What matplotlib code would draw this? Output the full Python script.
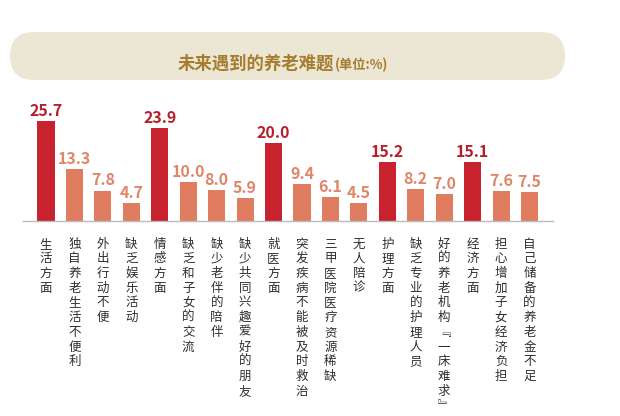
import matplotlib
matplotlib.use("Agg")
import matplotlib.pyplot as plt
from matplotlib.patches import FancyBboxPatch

plt.rcParams['font.family'] = ['Noto Sans CJK SC', 'DejaVu Sans']

categories = ["生活方面", "独自养老生活不便利", "外出行动不便", "缺乏娱乐活动",
              "情感方面", "缺乏和子女的交流", "缺少老伴的陪伴", "缺少共同兴趣爱好的朋友",
              "就医方面", "突发疾病不能被及时救治", "三甲医院医疗资源稀缺", "无人陪诊",
              "护理方面", "缺乏专业的护理人员", "好的养老机构﹃一床难求﹄",
              "经济方面", "担心增加子女经济负担", "自己储备的养老金不足"]
values = [25.7, 13.3, 7.8, 4.7,
          23.9, 10.0, 8.0, 5.9,
          20.0, 9.4, 6.1, 4.5,
          15.2, 8.2, 7.0,
          15.1, 7.6, 7.5]
is_main = [True, False, False, False,
           True, False, False, False,
           True, False, False, False,
           True, False, False,
           True, False, False]

RED = "#c8222e"
SALMON = "#e07c60"
RED_TXT = "#b51f2c"
SALMON_TXT = "#dd8668"

fig = plt.figure(figsize=(6.2, 4.16), dpi=100)
fig.patch.set_facecolor("white")

# title banner
banner = FancyBboxPatch((0.10, 3.36), 5.55, 0.48,
                        boxstyle="round,pad=0,rounding_size=0.24",
                        transform=fig.dpi_scale_trans,
                        facecolor="#ece6d4", edgecolor="none")
fig.patches.append(banner)
fig.text(334 / 620, 1 - 69 / 416, "未来遇到的养老难题", ha="right", va="baseline",
         fontsize=12.5, fontweight="bold", color="#a67c2e")
fig.text(335 / 620, 1 - 69 / 416, "(单位:%)", ha="left", va="baseline",
         fontsize=9.5, fontweight="bold", color="#a67c2e")

n = len(values)
# axis from px 23 to 553, baseline at px 221
left = 23 / 620
width = 530 / 620
bottom = 1 - 221 / 416
height = 117 / 416
ax = fig.add_axes([left, bottom, width, height])
xs = list(range(n))
spacing = (529.5 - 46) / (n - 1)
x0 = -(46 - 23) / spacing
x1 = x0 + 530 / spacing
ax.set_xlim(x0, x1)
ax.set_ylim(0, 30)

colors = [RED if m else SALMON for m in is_main]
ax.bar(xs, values, width=0.6, color=colors)

for x, v, m in zip(xs, values, is_main):
    ax.annotate(f"{v:.1f}", (x, v), xytext=(0, 1.5), textcoords="offset points",
                ha="center", va="bottom", fontsize=11.5, fontweight="bold",
                color=RED_TXT if m else SALMON_TXT)

for s in ["top", "right", "left"]:
    ax.spines[s].set_visible(False)
ax.spines["bottom"].set_color("#bbbbbb")
ax.spines["bottom"].set_linewidth(1.0)
ax.set_yticks([])
ax.set_xticks(xs)
ax.set_xticklabels(["\n".join(c) for c in categories], fontsize=9, color="#2e2e2e",
                   linespacing=1.17, va="top")
ax.tick_params(axis="x", length=0, pad=12)
ax.patch.set_alpha(0)

fig.savefig("out.png", dpi=100, facecolor="white")
